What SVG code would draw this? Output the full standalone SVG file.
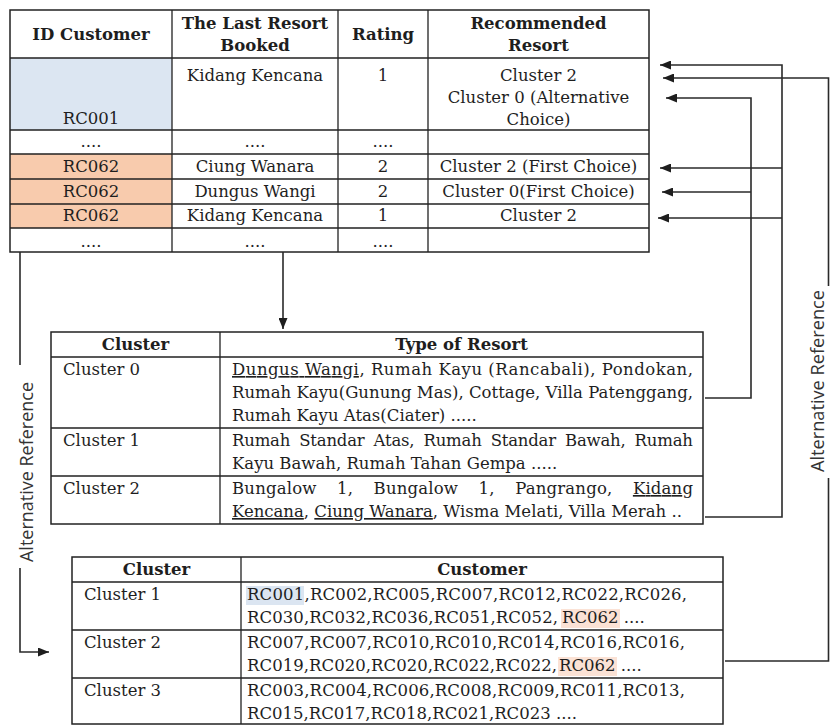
<svg xmlns="http://www.w3.org/2000/svg" width="830" height="725" viewBox="0 0 830 725">
<style>
.t{font-family:"DejaVu Serif","Liberation Serif",serif;font-size:16.5px;fill:#1e1e1e}
.b{font-weight:bold}
.m{text-anchor:middle}
.grid{fill:none;stroke:#222;stroke-width:1.5}
.ln{stroke:#222;stroke-width:1.3}
.con{fill:none;stroke:#2a2a2a;stroke-width:1.6}
.lab{font-family:"Open Sans","DejaVu Sans",sans-serif;font-size:18px;fill:#333;text-anchor:middle}
.u{text-decoration:underline}
</style>
<defs>
<marker id="ah" markerUnits="userSpaceOnUse" markerWidth="11" markerHeight="9" refX="11" refY="4.5" orient="auto">
<path d="M0,0 L11,4.5 L0,9 z" fill="#1e1e1e"/>
</marker>
</defs>
<rect width="830" height="725" fill="#fff"/>

<g id="table-customers">
<rect x="10" y="58" width="162" height="72" fill="#dce6f2"/>
<rect x="10" y="154" width="162" height="74" fill="#f8cbad"/>
<rect class="grid" x="10" y="10" width="639" height="242"/>
<path class="ln" d="M10,58H649M10,130H649M10,154H649M10,179H649M10,204H649M10,228H649M172,10V252M338,10V252M428,10V252"/>
<text class="t b m" x="91" y="40">ID Customer</text>
<text class="t b m" x="255" y="29">The Last Resort</text>
<text class="t b m" x="255" y="51">Booked</text>
<text class="t b m" x="383" y="40">Rating</text>
<text class="t b m" x="538.5" y="29">Recommended</text>
<text class="t b m" x="538.5" y="51">Resort</text>
<text class="t m" x="91" y="124">RC001</text>
<text class="t m" x="255" y="81">Kidang Kencana</text>
<text class="t m" x="383" y="81">1</text>
<text class="t m" x="538.5" y="81">Cluster 2</text>
<text class="t m" x="538.5" y="103">Cluster 0 (Alternative</text>
<text class="t m" x="538.5" y="125">Choice)</text>
<text class="t m" x="91" y="147" font-size="11">....</text>
<text class="t m" x="255" y="147" font-size="11">....</text>
<text class="t m" x="383" y="147" font-size="11">....</text>
<text class="t m" x="91" y="172">RC062</text>
<text class="t m" x="255" y="172">Ciung Wanara</text>
<text class="t m" x="383" y="172">2</text>
<text class="t m" x="538.5" y="172">Cluster 2 (First Choice)</text>
<text class="t m" x="91" y="197">RC062</text>
<text class="t m" x="255" y="197">Dungus Wangi</text>
<text class="t m" x="383" y="197">2</text>
<text class="t m" x="538.5" y="197">Cluster 0(First Choice)</text>
<text class="t m" x="91" y="221">RC062</text>
<text class="t m" x="255" y="221">Kidang Kencana</text>
<text class="t m" x="383" y="221">1</text>
<text class="t m" x="538.5" y="221">Cluster 2</text>
<text class="t m" x="91" y="247" font-size="11">....</text>
<text class="t m" x="255" y="247" font-size="11">....</text>
<text class="t m" x="383" y="247" font-size="11">....</text>
</g>

<g id="table-resort-types">
<rect class="grid" x="51" y="332" width="652" height="192"/>
<path class="ln" d="M51,357H703M51,428H703M51,476H703M220,332V524"/>
<text class="t b m" x="135.5" y="350">Cluster</text>
<text class="t b m" x="461.5" y="350">Type of Resort</text>
<text class="t" x="63" y="375">Cluster 0</text>
<text class="t" x="232" y="375" textLength="461" lengthAdjust="spacing"><tspan class="u">Dungus Wangi</tspan>, Rumah Kayu (Rancabali), Pondokan,</text>
<text class="t" x="232" y="398" textLength="461" lengthAdjust="spacing">Rumah Kayu(Gunung Mas), Cottage, Villa Patenggang,</text>
<text class="t" x="232" y="421">Rumah Kayu Atas(Ciater) .....</text>
<text class="t" x="63" y="446">Cluster 1</text>
<text class="t" x="232" y="446" textLength="461" lengthAdjust="spacing" word-spacing="4">Rumah Standar Atas, Rumah Standar Bawah, Rumah</text>
<text class="t" x="232" y="469">Kayu Bawah, Rumah Tahan Gempa .....</text>
<text class="t" x="63" y="494">Cluster 2</text>
<text class="t" x="232" y="494" textLength="461" lengthAdjust="spacing" word-spacing="15">Bungalow 1, Bungalow 1, Pangrango, <tspan class="u">Kidang</tspan></text>
<text class="t" x="232" y="517"><tspan class="u">Kencana</tspan>, <tspan class="u">Ciung Wanara</tspan>, Wisma Melati, Villa Merah ..</text>
</g>

<g id="table-cluster-customers">
<rect x="246" y="586" width="58" height="19" fill="#dbe5f1"/>
<rect x="561" y="609" width="59" height="19" fill="#fbe2d5"/>
<rect x="558" y="657" width="59" height="19" fill="#fbe2d5"/>
<rect class="grid" x="72" y="557" width="651" height="167"/>
<path class="ln" d="M72,582H723M72,630H723M72,678H723M241,557V724"/>
<text class="t b m" x="156.5" y="575">Cluster</text>
<text class="t b m" x="482" y="575">Customer</text>
<text class="t" x="84" y="600">Cluster 1</text>
<text class="t" x="247" y="600" textLength="440" lengthAdjust="spacing">RC001,RC002,RC005,RC007,RC012,RC022,RC026,</text>
<text class="t" x="247" y="623" textLength="311" lengthAdjust="spacing">RC030,RC032,RC036,RC051,RC052,</text>
<text class="t" x="562" y="623">RC062 ....</text>
<text class="t" x="84" y="648">Cluster 2</text>
<text class="t" x="247" y="648" textLength="438" lengthAdjust="spacing">RC007,RC007,RC010,RC010,RC014,RC016,RC016,</text>
<text class="t" x="247" y="671" textLength="310" lengthAdjust="spacing">RC019,RC020,RC020,RC022,RC022,</text>
<text class="t" x="559" y="671">RC062 ....</text>
<text class="t" x="84" y="696">Cluster 3</text>
<text class="t" x="247" y="696" textLength="438" lengthAdjust="spacing">RC003,RC004,RC006,RC008,RC009,RC011,RC013,</text>
<text class="t" x="247" y="719">RC015,RC017,RC018,RC021,RC023 ....</text>
</g>

<g id="connectors">
<path class="con" d="M283,252V329" marker-end="url(#ah)"/>
<path class="con" d="M20,252V365"/>
<path class="con" d="M20,568V652H49" marker-end="url(#ah)"/>
<path class="con" d="M705,398H751V98H666" marker-end="url(#ah)"/>
<path class="con" d="M751,192H662" marker-end="url(#ah)"/>
<path class="con" d="M705,517H782V65H660" marker-end="url(#ah)"/>
<path class="con" d="M782,168H660" marker-end="url(#ah)"/>
<path class="con" d="M782,218H658" marker-end="url(#ah)"/>
<path class="con" d="M725,661H828.5V478"/>
<path class="con" d="M828.5,286V78H663" marker-end="url(#ah)"/>
<text class="lab" transform="translate(33,472) rotate(-90)" textLength="180" lengthAdjust="spacingAndGlyphs">Alternative Reference</text>
<text class="lab" transform="translate(824,381) rotate(-90)" textLength="182" lengthAdjust="spacingAndGlyphs">Alternative Reference</text>
</g>
</svg>
